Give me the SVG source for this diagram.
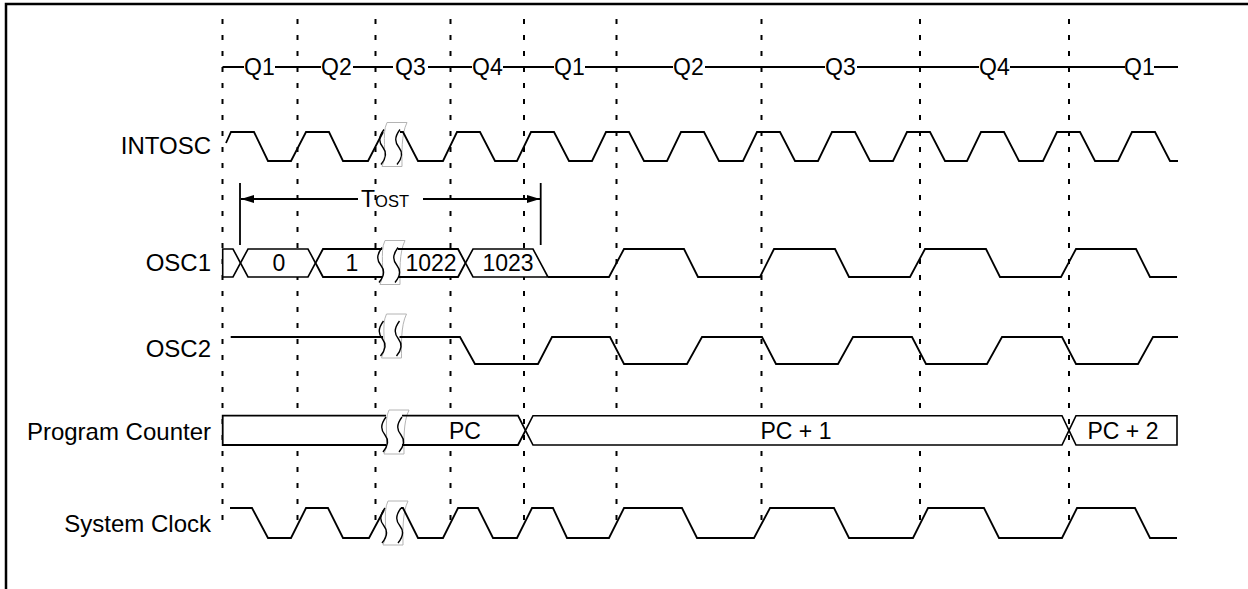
<svg xmlns="http://www.w3.org/2000/svg" width="1248" height="589" viewBox="0 0 1248 589">
<style>
text{font-family:"Liberation Sans",Arial,sans-serif;font-size:23px;fill:#000}
.lbl{text-anchor:end;font-size:24px}
.mid{text-anchor:middle}
.w{fill:none;stroke:#000;stroke-width:1.8;stroke-linejoin:miter}
.bf{fill:#fff;stroke:none}
.bs{fill:#fff;stroke:#000;stroke-width:1.6}
.dot{stroke:#000;stroke-width:2;stroke-dasharray:5 11;fill:none}
.bo{fill:#fff;stroke:#b4b4b4;stroke-width:1}
.sc{fill:none;stroke:#000;stroke-width:1.4}
</style>
<defs>
<path id="brk" class="bo" d="M-7,-22 L13,-22 C7,-10 8,10 8,22 L-12,22 C-6,10 -13,-10 -7,-22 Z"/>
<g id="brkS" class="sc">
<path d="M-10,-15 C-16,-7 -15,-2 -11,3 C-7,8 -8,14 -13,20"/>
<path d="M6,-15 C0,-7 1,-2 5,3 C9,8 8,14 3,20"/>
</g>
<marker id="ah" viewBox="0 0 13 8" refX="13" refY="4" markerWidth="13" markerHeight="8" markerUnits="userSpaceOnUse" orient="auto">
<path d="M0,0 L13,4 L0,8 Z" fill="#000"/>
</marker>
</defs>
<rect x="0" y="0" width="1248" height="589" fill="#fff"/>
<path d="M6,589 V4 H1248" fill="none" stroke="#000" stroke-width="2.5"/>

<g id="gridlines">
<path class="dot" d="M222.5,19 V521 M297.5,19 V521 M375.5,19 V521 M450.5,19 V521 M524,19 V521 M616.5,19 V521 M761.5,19 V521 M920,19 V521 M1069,19 V521"/>
</g>

<g id="q-row">
<path class="w" d="M222.5,67 H244 M275,67 H321 M353,67 H393 M428,67 H472 M503,67 H554 M585,67 H673 M705,67 H825 M857,67 H979 M1010,67 H1125 M1154,67 H1178"/>
<text x="244" y="75">Q1</text>
<text x="321" y="75">Q2</text>
<text x="395" y="75">Q3</text>
<text x="472" y="75">Q4</text>
<text x="554" y="75">Q1</text>
<text x="673" y="75">Q2</text>
<text x="825" y="75">Q3</text>
<text x="979" y="75">Q4</text>
<text x="1124" y="75">Q1</text>
</g>

<g id="bus-fills">
<path class="bf" d="M315.5,263 L323,249 H392 V277 H323 Z"/>
<path class="bf" d="M392,249 H458 L465.5,263 L458,277 H392 Z"/>
<path class="bf" d="M222.7,415.7 H396 V445 H222.7 Z"/>
<path class="bf" d="M396,415.7 H518 L525.5,430.4 L518,445 H396 Z"/>
</g>

<g id="breaks">
<use href="#brk" x="394" y="144.5"/>
<use href="#brk" x="392" y="262.5"/>
<use href="#brk" x="393.5" y="336"/>
<use href="#brk" x="396" y="432"/>
<use href="#brk" x="395" y="523"/>
</g>

<g id="intosc">
<text class="lbl" x="211" y="154">INTOSC</text>
<path class="w" d="M226,143 L231,132 H254 L268,161 H291 L306,132 H329 L343,161 H368 L383,132"/>
<path class="w" d="M400,132 H403 L418,161 H443 L457,132 H480 L495,161 H517 L531,132 H554 L569,161 H592 L606,132 H629 L644,161 H667 L681,132 H704 L719,161 H743 L757,132 H780 L795,161 H818 L832,132 H855 L870,161 H893 L907,132 H930 L945,161 H967 L981,132 H1004 L1019,161 H1043 L1057,132 H1080 L1095,161 H1118 L1132,132 H1155 L1170,161 H1178"/>
</g>

<g id="tost">
<path class="w" d="M240,183 V245 M540.7,183 V245"/>
<path class="w" d="M358,199 H241" marker-end="url(#ah)"/>
<path class="w" d="M423,199 H540" marker-end="url(#ah)"/>
<text x="361" y="207">T<tspan font-size="16.5">OST</tspan></text>
</g>

<g id="osc1">
<text class="lbl" x="211" y="271">OSC1</text>
<path class="bs" d="M222.7,249 H233 L240.5,263 L233,277 H222.7 Z"/>
<path class="bs" d="M240.5,263 L248,249 H308 L315.5,263 L308,277 H248 Z"/>
<path class="w" d="M382,249 H323 L315.5,263 L323,277 H382"/>
<path class="w" d="M398,249 H458 L465.5,263 L458,277 H398"/>
<path class="bs" d="M465.5,263 L473,249 H533 L548,277 H473 Z"/>
<path class="w" d="M548,277 H609 L624,249 H684 L698,277 H760 L774,249 H835 L849,277 H910 L925,249 H986 L1000,277 H1061 L1076,249 H1136 L1150,277 H1177"/>
<text class="mid" x="279" y="271">0</text>
<text class="mid" x="352" y="271">1</text>
<text class="mid" x="431" y="271">1022</text>
<text class="mid" x="508" y="271">1023</text>
</g>

<g id="osc2">
<text class="lbl" x="211" y="357">OSC2</text>
<path class="w" d="M230.7,337 H383"/>
<path class="w" d="M399.5,337 H460 L475,364 H538 L552,337 H610 L624,364 H687 L702,337 H762 L776,364 H838 L853,337 H912 L926,364 H987 L1002,337 H1062 L1076,364 H1138 L1153,337 H1178"/>
</g>

<g id="program-counter">
<text class="lbl" x="211" y="440">Program Counter</text>
<path class="w" d="M386,415.7 H222.7 V445 H386"/>
<path class="w" d="M402,415.7 H518 L525.5,430.4 L518,445 H402"/>
<path class="bs" d="M525.5,430.4 L533,415.7 H1062 L1069,430.4 L1062,445 H533 Z"/>
<path class="bs" d="M1069,430.4 L1076,415.7 H1177 V445 H1076 Z"/>
<text class="mid" x="465" y="439">PC</text>
<text class="mid" x="796" y="439">PC + 1</text>
<text class="mid" x="1123" y="439">PC + 2</text>
</g>

<g id="system-clock">
<text class="lbl" x="211" y="532">System Clock</text>
<path class="w" d="M230,508 H252 L268,538 H291 L306,508 H328 L343,538 H369 L384,510"/>
<path class="w" d="M401,508 H403 L418,538 H443 L458,508 H478 L493,538 H517 L532,508 H553 L567,538 H609 L624,508 H682 L697,538 H754 L770,508 H834 L849,538 H913 L928,508 H984 L999,538 H1062 L1077,508 H1135 L1150,538 H1177"/>
</g>

<g id="break-curves">
<use href="#brkS" x="394" y="144.5"/>
<use href="#brkS" x="392" y="262.5"/>
<use href="#brkS" x="393.5" y="336"/>
<use href="#brkS" x="396" y="432"/>
<use href="#brkS" x="395" y="523"/>
</g>
</svg>
